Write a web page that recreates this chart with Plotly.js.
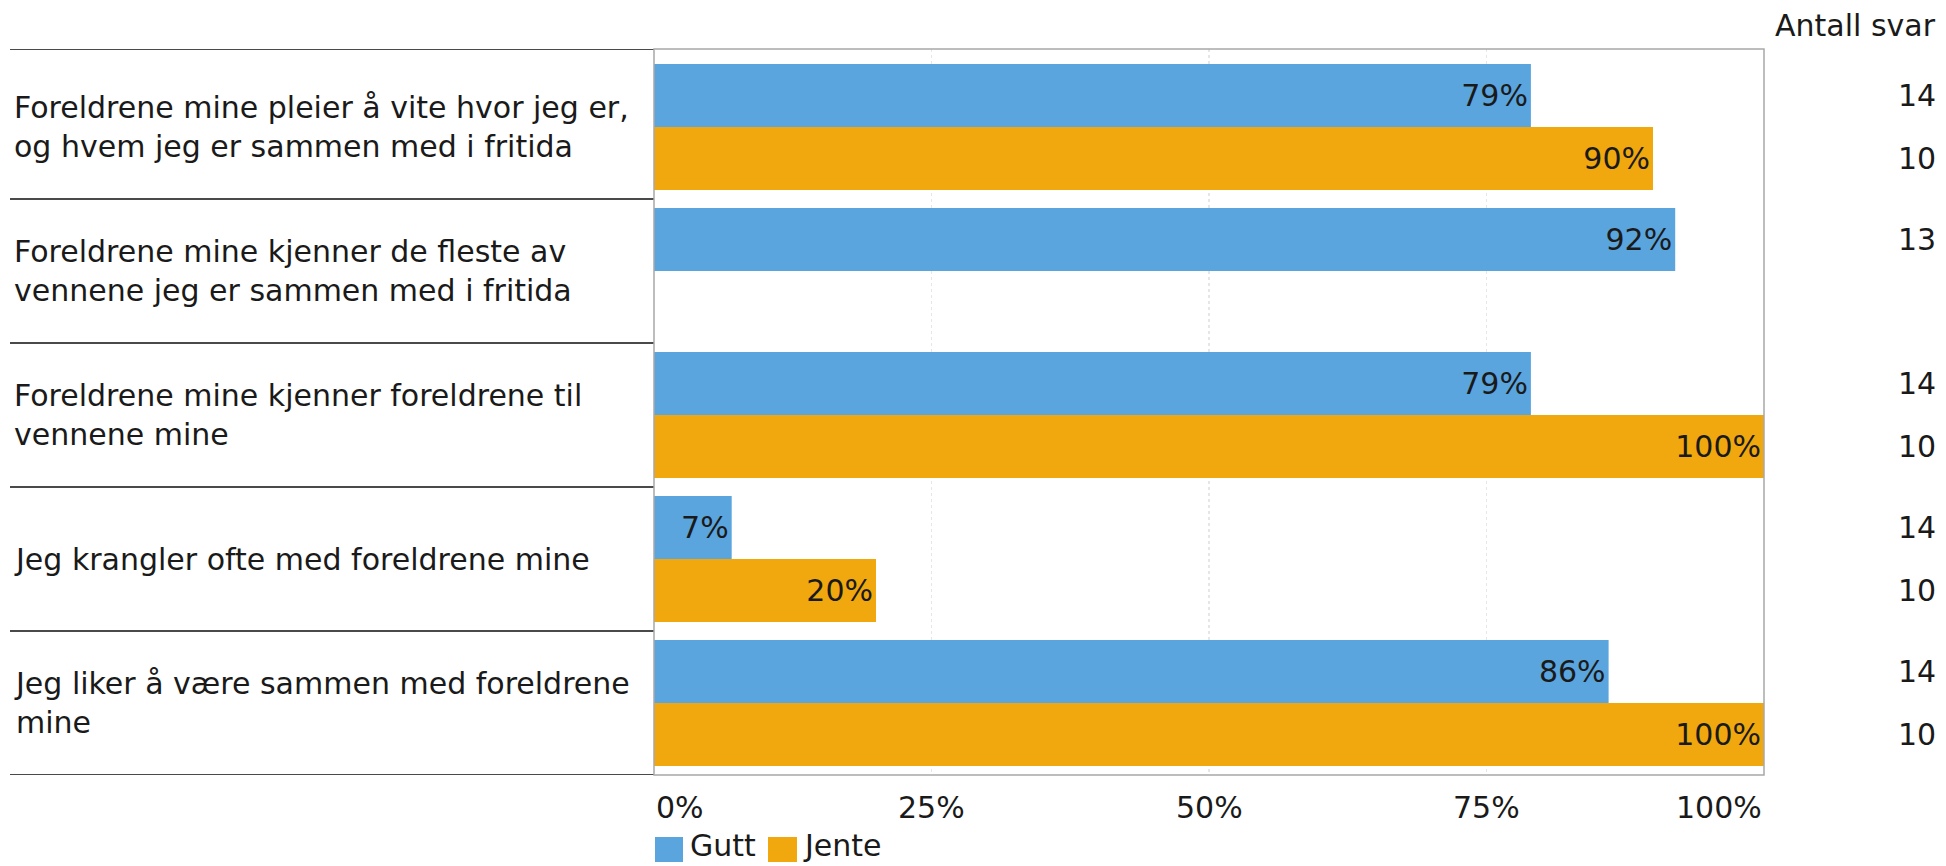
<!DOCTYPE html>
<html>
<head>
<meta charset="utf-8">
<script src="https://cdn.plot.ly/plotly-3.0.1.min.js"></script>
<style>
  html, body { margin: 0; padding: 0; background: #ffffff; }
  #chart { width: 1946px; height: 866px; }
</style>
</head>
<body>
<div id="chart"></div>
<script>
// ---- Data ----
const categories = [
  "Foreldrene mine pleier å vite hvor jeg er,<br>og hvem jeg er sammen med i fritida",
  "Foreldrene mine kjenner de fleste av<br>vennene jeg er sammen med i fritida",
  "Foreldrene mine kjenner foreldrene til<br>vennene mine",
  "Jeg krangler ofte med foreldrene mine",
  "Jeg liker å være sammen med foreldrene<br>mine"
];
const seriesNames = ["Gutt", "Jente"];
const guttValues = [79, 92, 79, 7, 86];
const jenteValues = [90, null, 100, 20, 100];
const guttCounts = [14, 13, 14, 14, 14];
const jenteCounts = [10, null, 10, 10, 10];
const xTickValues = [0, 25, 50, 75, 100];
const xTickLabels = ["0%", "25%", "50%", "75%", "100%"];
const countHeader = "Antall svar";

// ---- Styles ----
const FONT = "DejaVu Sans, Verdana, sans-serif";
const FS = 30;
const BLUE = "#5aa5de";
const ORANGE = "#f0a80e";
const TXT = "#1a1a1a";

const W = 1946, H = 866;
const mL = 654, mR = 182, mT = 49, mB = 91;
const plotW = W - mL - mR, plotH = H - mT - mB;
const px2x = p => (p - mL) / plotW;
const py2y = p => (H - mB - p) / plotH;

const pos = categories.map((_, i) => i);
const barW = 0.4375;

const fmt = v => (v === null ? "" : v + "%");

const traces = [
  {
    type: "bar", orientation: "h", name: seriesNames[0],
    y: pos, x: guttValues, width: barW, offset: -barW,
    marker: { color: BLUE },
    text: guttValues.map(fmt), textposition: "inside", insidetextanchor: "end",
    textfont: { family: FONT, size: FS, color: TXT },
    hoverinfo: "skip", showlegend: false, cliponaxis: false
  },
  {
    type: "bar", orientation: "h", name: seriesNames[1],
    y: pos, x: jenteValues, width: barW, offset: 0,
    marker: { color: ORANGE },
    text: jenteValues.map(fmt), textposition: "inside", insidetextanchor: "end",
    textfont: { family: FONT, size: FS, color: TXT },
    hoverinfo: "skip", showlegend: false, cliponaxis: false
  }
];

const annotations = [];
const shapes = [];

// category labels
categories.forEach((c, i) => {
  annotations.push({
    xref: "paper", yref: "y", x: px2x(12), y: i, xanchor: "left", yanchor: "middle",
    text: c, align: "left", showarrow: false,
    font: { family: FONT, size: FS, color: TXT }
  });
});

// left table separator lines
const topY = -0.542;
[topY, 0.5, 1.5, 2.5, 3.5, 4.5].forEach(v => {
  shapes.push({
    type: "line", xref: "paper", yref: "y", x0: px2x(10), x1: 0, y0: v, y1: v,
    line: { color: "#4a4a4a", width: 2 }, layer: "above"
  });
});

// plot frame
shapes.push({
  type: "rect", xref: "paper", yref: "paper", x0: 0, x1: 1, y0: 0, y1: 1,
  line: { color: "#a8a8a8", width: 1.5 }, layer: "above"
});

// x tick labels
xTickValues.forEach((v, i) => {
  annotations.push({
    xref: "x", yref: "paper", x: v, y: py2y(807), yanchor: "middle",
    xanchor: i === 0 ? "left" : (i === xTickValues.length - 1 ? "right" : "center"),
    text: xTickLabels[i], showarrow: false,
    font: { family: FONT, size: FS, color: TXT }
  });
});

// count header and counts
annotations.push({
  xref: "paper", yref: "paper", x: px2x(1938), y: py2y(25), xanchor: "right", yanchor: "middle",
  text: countHeader, showarrow: false, font: { family: FONT, size: FS, color: TXT }
});
guttCounts.forEach((n, i) => {
  if (n === null) return;
  annotations.push({
    xref: "paper", yref: "y", x: px2x(1938), y: i - barW / 2, xanchor: "right", yanchor: "middle",
    text: String(n), showarrow: false, font: { family: FONT, size: FS, color: TXT }
  });
});
jenteCounts.forEach((n, i) => {
  if (n === null) return;
  annotations.push({
    xref: "paper", yref: "y", x: px2x(1938), y: i + barW / 2, xanchor: "right", yanchor: "middle",
    text: String(n), showarrow: false, font: { family: FONT, size: FS, color: TXT }
  });
});

// legend (custom)
const legendItems = [
  { name: seriesNames[0], color: BLUE, x0: 655, x1: 683, tx: 689 },
  { name: seriesNames[1], color: ORANGE, x0: 768, x1: 797, tx: 802 }
];
legendItems.forEach(it => {
  shapes.push({
    type: "rect", xref: "paper", yref: "paper",
    x0: px2x(it.x0), x1: px2x(it.x1), y0: py2y(837), y1: py2y(862),
    fillcolor: it.color, line: { width: 0 }
  });
  annotations.push({
    xref: "paper", yref: "paper", x: px2x(it.tx), y: py2y(864), xanchor: "left", yanchor: "bottom",
    text: it.name, showarrow: false, borderpad: 0,
    font: { family: FONT, size: FS, color: TXT }
  });
});

const layout = {
  width: W, height: H,
  margin: { l: mL, r: mR, t: mT, b: mB, pad: 0 },
  paper_bgcolor: "#ffffff", plot_bgcolor: "#ffffff",
  barmode: "overlay",
  showlegend: false,
  font: { family: FONT, size: FS, color: TXT },
  xaxis: {
    range: [0, 100], tickvals: xTickValues, showticklabels: false,
    showgrid: true, gridcolor: "#e6e6e6", griddash: "dot", gridwidth: 1.5,
    zeroline: false, showline: false, fixedrange: true
  },
  yaxis: {
    range: [4.5, topY], showticklabels: false, showgrid: false, zeroline: false,
    showline: false, fixedrange: true
  },
  annotations: annotations,
  shapes: shapes
};

Plotly.newPlot("chart", traces, layout, { displayModeBar: false, staticPlot: true });
</script>
</body>
</html>
